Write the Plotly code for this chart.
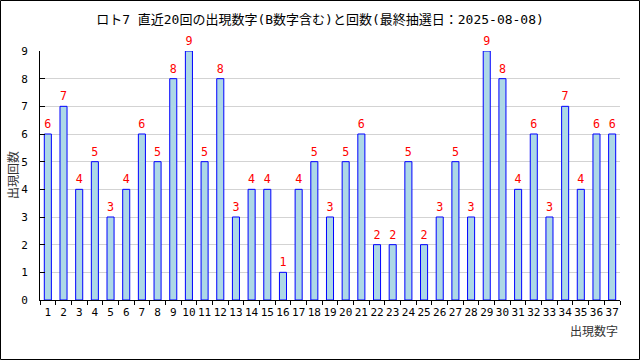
import plotly.graph_objects as go

numbers = [str(i) for i in range(1, 38)]
counts = [6, 7, 4, 5, 3, 4, 6, 5, 8, 9, 5, 8, 3, 4, 4, 1, 4, 5, 3, 5, 6, 2, 2, 5, 2, 3, 5, 3, 9, 8, 4, 6, 3, 7, 4, 6, 6]
y_ticks = list(range(0, 10))

W, H = 640, 360
ml, mr, mt, mb = 40, 20, 51, 60
pw, ph = W - ml - mr, H - mt - mb

font = "DejaVu Sans Mono, Noto Sans CJK JP"

fig = go.Figure(go.Bar(
    x=numbers, y=counts, width=0.45,
    marker=dict(color="#add8e6", line=dict(color="#0000ff", width=1)),
    text=[str(c) for c in counts], textposition="outside",
    textfont=dict(color="#ff0000", size=12, family=font),
    cliponaxis=False,
))

fig.update_layout(
    width=W, height=H,
    margin=dict(l=ml, r=mr, t=mt, b=mb),
    paper_bgcolor="white", plot_bgcolor="white",
    showlegend=False,
    font=dict(family=font, size=11, color="#000000"),
    title=dict(text="ロト7 直近20回の出現数字(B数字含む)と回数(最終抽選日：2025-08-08)",
               x=0.5, xanchor="center", y=1 - 19 / H, yanchor="middle",
               font=dict(size=13, family=font, color="#000000")),
    bargap=0.55,
)

fig.update_xaxes(
    type="category", range=[-0.5, 36.5],
    showline=True, linecolor="black", linewidth=1,
    ticks="outside", tickson="boundaries", ticklen=4, tickcolor="black",
    tickangle=0, tickfont=dict(size=11), showgrid=False, ticklabelstandoff=2,
)
fig.update_yaxes(
    range=[0, 9], tickvals=y_ticks,
    showline=True, linecolor="black", linewidth=1,
    showgrid=True, gridcolor="#d3d3d3", gridwidth=1,
    ticks="inside", ticklen=5, tickcolor="black",
    ticklabelstandoff=9, tickfont=dict(size=11),
    zeroline=False,
)

fig.add_annotation(text="出現回数", xref="paper", yref="paper",
                   x=(12 - ml) / pw, y=(mt + ph - 175) / ph, textangle=-90,
                   showarrow=False, xanchor="center", yanchor="middle",
                   font=dict(size=12, family="Noto Sans CJK JP", color="#333333"))
fig.add_annotation(text="出現数字", xref="paper", yref="paper",
                   x=(620 - ml) / pw, y=(mt + ph - 320) / ph,
                   showarrow=False, xanchor="right", yanchor="top",
                   font=dict(size=12, family="Noto Sans CJK JP", color="#333333"))

fig.add_shape(type="rect", xref="paper", yref="paper",
              x0=(0.5 - ml) / pw, x1=(W - 0.5 - ml) / pw,
              y0=(mt + ph - (H - 0.5)) / ph, y1=(mt + ph - 0.5) / ph,
              line=dict(color="black", width=1), fillcolor="rgba(0,0,0,0)")

fig.write_html("out.html", config={"displayModeBar": False},
               post_script="document.body.style.margin='0';")
